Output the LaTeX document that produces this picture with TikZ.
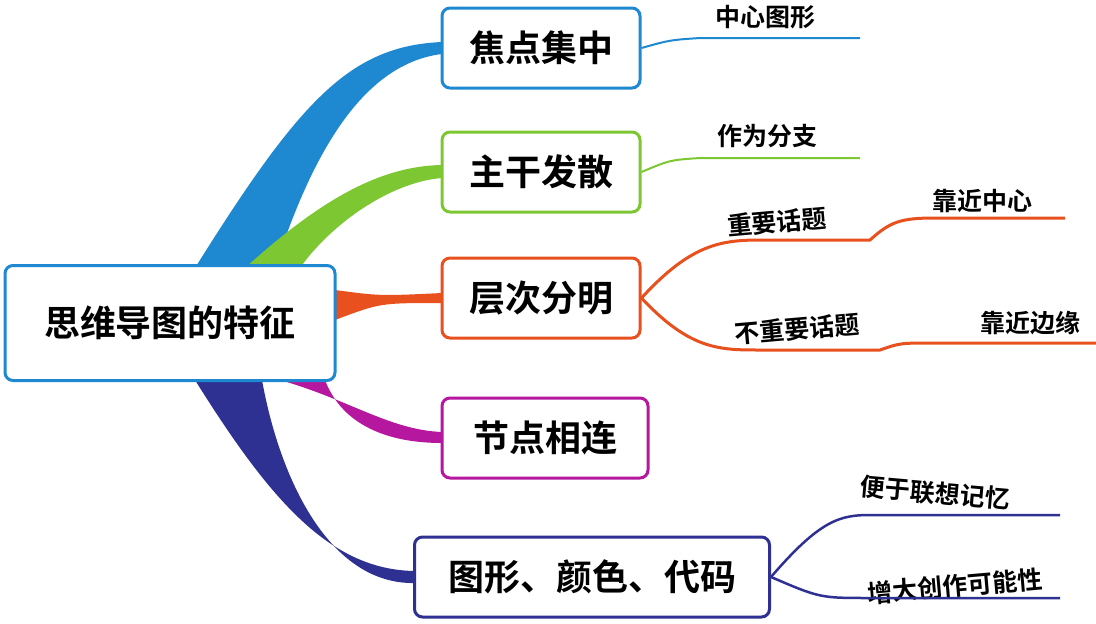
\documentclass[tikz,border=0pt]{standalone}
\usepackage{fontspec}
\newfontfamily\cjk{Noto Sans CJK SC Bold}
\definecolor{colB}{HTML}{1E88D0}
\definecolor{colG}{HTML}{7DC832}
\definecolor{colO}{HTML}{E8501E}
\definecolor{colM}{HTML}{B5179E}
\definecolor{colI}{HTML}{2E3192}
\begin{document}
\begin{tikzpicture}[x=1pt,y=-1pt,
  box/.style={draw=#1,line width=3pt,rounded corners=8pt,fill=white,inner sep=0pt,font=\cjk\fontsize{36}{36}\selectfont},
  lab/.style={font=\cjk\fontsize{25}{25}\selectfont,inner sep=0pt},
  br/.style={draw=#1,line width=2pt}]
\useasboundingbox (0,0) rectangle (1096,624);
% tapered branches
\fill[colB] (195,268) .. controls (300,100) and (350,46) .. (442,42) -- (442,54) .. controls (360,64) and (310,160) .. (275,268) -- cycle;
\fill[colG] (245,268) .. controls (320,200) and (380,166) .. (442,165) -- (442,178) .. controls (390,182) and (330,225) .. (300,268) -- cycle;
\fill[colO] (335,290) .. controls (380,296) .. (442,293) -- (442,303) .. controls (380,303) .. (335,320) -- cycle;
\fill[colM] (280,380) .. controls (350,400) and (390,430) .. (442,432) -- (442,443) .. controls (380,443) and (340,420) .. (325,380) -- cycle;
\fill[colI] (195,380) .. controls (270,500) and (330,570) .. (415,571) -- (415,583) .. controls (330,585) and (280,480) .. (262,380) -- cycle;
% boxes
\node[box=colB,minimum width=330pt,minimum height=115pt] (c) at (170,323) {思维导图的特征};
\node[box=colB,minimum width=198pt,minimum height=80pt] (a) at (541,48) {焦点集中};
\node[box=colG,minimum width=198pt,minimum height=80pt] (b) at (541,172) {主干发散};
\node[box=colO,minimum width=198pt,minimum height=80pt] (d) at (541,298) {层次分明};
\node[box=colM,minimum width=206pt,minimum height=80pt] (e) at (545,438) {节点相连};
\node[box=colI,minimum width=355pt,minimum height=80pt] (f) at (592,577) {图形、颜色、代码};
% sub labels
\node[lab] (a1) at (765,17) {中心图形};
\node[lab] (b1) at (767,136) {作为分支};
\node[lab,rotate=5] (d1) at (777,222) {重要话题};
\node[lab] (d2) at (982,201) {靠近中心};
\node[lab,rotate=5] (d3) at (797,329) {不重要话题};
\node[lab] (d4) at (1030,323) {靠近边缘};
\node[lab,rotate=-5] (f1) at (935,493) {便于联想记忆};
\node[lab,rotate=5] (f2) at (955,586) {增大创作可能性};
% sub branches
\coordinate (ae) at (860,38);
\coordinate (be) at (860,158);
\coordinate (dm1) at (870,240);
\coordinate (de1) at (1065,218);
\coordinate (dm2) at (880,350);
\coordinate (de2) at (1096,343);
\coordinate (fe1) at (1060,515);
\coordinate (fe2) at (1060,598);
\draw[br=colB] (a.east) .. controls (670,40) .. (700,38) -- (ae);
\draw[br=colG] (b.east) .. controls (670,160) .. (700,158) -- (be);
\draw[br=colO,line width=3pt] (d.east) .. controls (690,245) and (720,240) .. (760,240) -- (dm1) .. controls (890,222) and (900,218) .. (935,218) -- (de1);
\draw[br=colO,line width=3pt] (d.east) .. controls (690,350) and (720,350) .. (760,350) -- (dm2) .. controls (900,343) .. (935,343) -- (de2);
\draw[br=colI,line width=2.5pt] (f.east) .. controls (820,520) and (840,515) .. (870,515) -- (fe1);
\draw[br=colI,line width=2.5pt] (f.east) .. controls (820,598) .. (870,598) -- (fe2);
\end{tikzpicture}
\end{document}
